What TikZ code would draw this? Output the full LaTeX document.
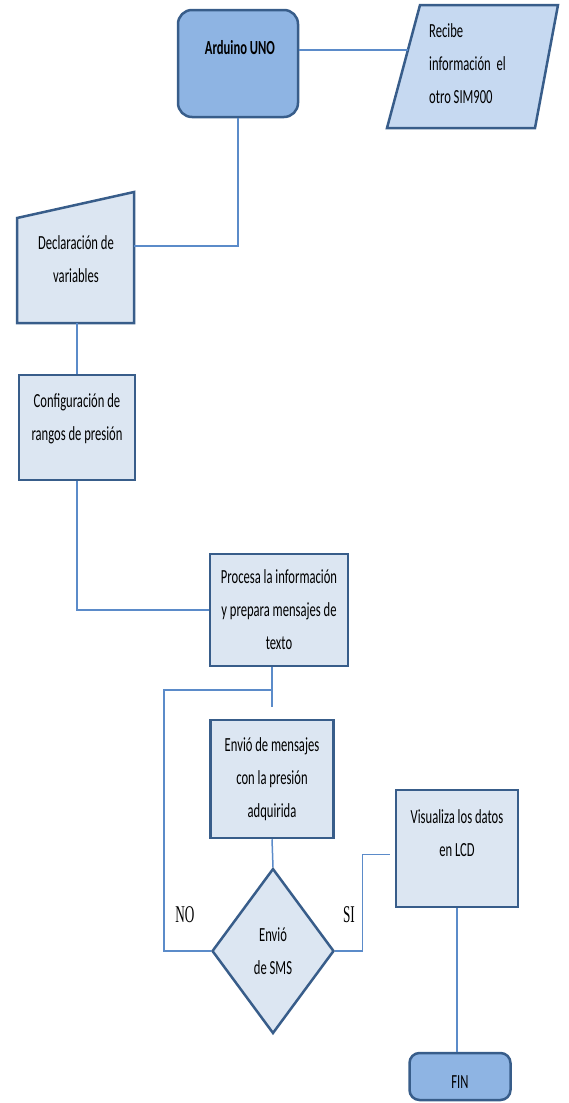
\documentclass[tikz,border=0pt]{standalone}
\usepackage{fontspec}
\setmainfont[FakeStretch=0.63]{Carlito}
\newfontfamily\letrasi[FakeStretch=0.55]{Liberation Serif}
\usetikzlibrary{shapes.geometric}

\definecolor{borde}{HTML}{385D8A}
\definecolor{linea}{HTML}{5B8BC9}
\definecolor{azulfuerte}{HTML}{8EB4E3}
\definecolor{azulmedio}{HTML}{C6D9F1}
\definecolor{azulclaro}{HTML}{DCE6F2}

\tikzset{
  texto/.style={font=\fontsize{20}{33}\selectfont,align=center,inner sep=0pt},
  caja/.style={draw=borde,line width=2.5pt,fill=azulclaro,texto},
  conector/.style={draw=linea,line width=1.5pt},
}

\begin{document}
\begin{tikzpicture}[x=1pt,y=-1pt]
        \useasboundingbox (0,0) rectangle (569,1103);

        % Inicio
        \node[caja,fill=azulfuerte,rounded corners=14pt,minimum width=120pt,minimum height=107pt] (arduino) at (238,63.5) {};
        \node[texto,font=\fontsize{20}{33}\selectfont\bfseries] (arduinotxt) at (240,48) {Arduino UNO};

        % Datos de entrada (paralelogramo)
        \draw[draw=borde,line width=2.5pt,fill=azulmedio] (387,128) -- (420,5) -- (558,5) -- (535,128) -- cycle;
        \node[texto,align=left,anchor=west] (recibe) at (429,64) {Recibe\\información~ el\\otro SIM900};
        \coordinate (recibe-izq) at (408,50);

        % Entrada manual
        \draw[draw=borde,line width=2.5pt,fill=azulclaro] (17,218) -- (134,192) -- (134,323) -- (17,323) -- cycle;
        \node[texto] (declara) at (76,259) {Declaración de\\variables};
        \coordinate (declara-der) at (134,246);
        \coordinate (declara-abajo) at (77,323);

        % Procesos
        \node[caja,minimum width=116pt,minimum height=105pt] (config) at (77,427.5) {};
        \node[texto] (configtxt) at (77,419) {Configuración de\\rangos de presión};
        \node[caja,minimum width=138pt,minimum height=112pt] (procesa) at (279,610) {Procesa la información\\y prepara mensajes de\\texto};
        \node[caja,minimum width=123pt,minimum height=118pt] (envio) at (272,779) {Envió de mensajes\\con la presión\\adquirida};
        \node[caja,minimum width=122pt,minimum height=117pt] (visual) at (457,848.5) {};
        \node[texto] (visualtxt) at (457,833.5) {Visualiza los datos\\en LCD};

        % Decision
        \node[caja,diamond,minimum width=122pt,minimum height=165pt] (decision) at (273,951) {Envió\\de SMS};

        % Fin
        \node[caja,fill=azulfuerte,rounded corners=10pt,minimum width=101pt,minimum height=47pt] (fin) at (460,1076.5) {};
        \node[texto] (fintxt) at (460,1082) {FIN};

        % Conexiones
        \coordinate (retorno) at (164,690);
        \draw[conector] (arduino.east |- recibe-izq) -- (recibe-izq);
        \draw[conector] (arduino.south) |- (declara-der);
        \draw[conector] (declara-abajo) -- (config.north);
        \draw[conector] (config.south) |- (procesa.west);
        \draw[conector,shorten >=12pt] (procesa.south -| envio.north) -- (envio.north);
        \draw[conector] (decision.west) -| (retorno) -- (retorno -| envio.north);
        \draw[conector] (envio.south) -- (decision.north);
        \draw[conector,shorten >=5pt] (decision.east) -- ++(27,0) |- ([yshift=-6pt]visual.west);
        \draw[conector] (visual.south) -- (visual.south |- fin.north);

        % Etiquetas
        \node[font=\letrasi\fontsize{24}{24}\selectfont] (no) at (185,915) {NO};
        \node[font=\letrasi\fontsize{24}{24}\selectfont] (si) at (349,915) {SI};
\end{tikzpicture}
\end{document}
